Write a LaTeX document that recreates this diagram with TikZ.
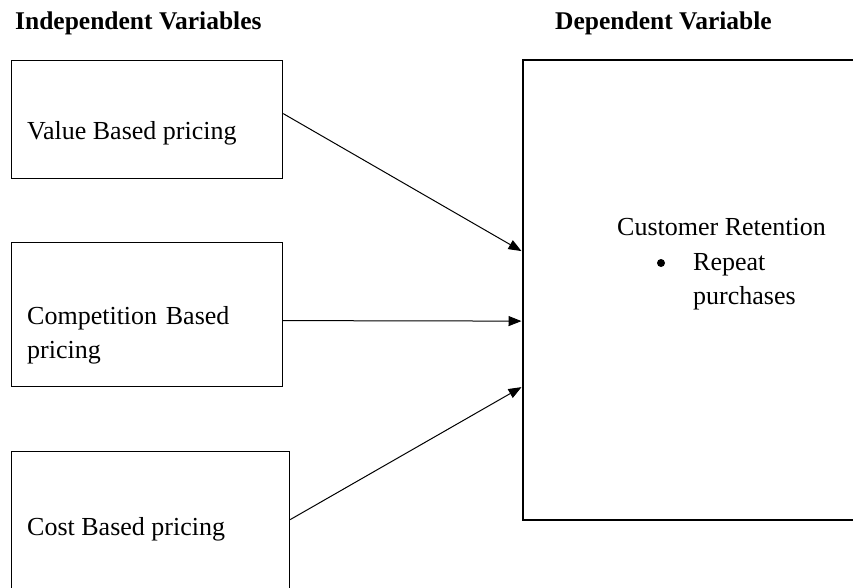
\documentclass[tikz,border=0pt]{standalone}
\usepackage{fontspec}
\setmainfont{Liberation Serif}
\usetikzlibrary{arrows.meta}
\begin{document}
\begin{tikzpicture}[x=1pt,y=-1pt,
  txt/.style={font=\fontsize{26}{34}\selectfont, inner sep=0pt, anchor=base west},
  head/.style={txt, font=\fontsize{25.5}{34}\selectfont\bfseries},
  ivbox/.style={draw, line width=1.2pt, rectangle, inner sep=0pt},
  dvbox/.style={draw, line width=2.2pt, rectangle, inner sep=0pt},
  dot/.style={circle, fill, inner sep=0pt, minimum size=8pt},
  link/.style={line width=1pt, -{Triangle[length=13pt,width=10pt]}}]
  \useasboundingbox (0,0) rectangle (853,588);
  \clip (0,0) rectangle (853,588);
  \fill[white] (0,0) rectangle (853,588);

  % headings
  \node[head] (hiv) at (15,30) {Independent Variables};
  \node[head] (hdv) at (555,30) {Dependent Variable};

  % independent variable boxes
  \node[ivbox, minimum width=271.5pt, minimum height=118pt, anchor=north west] (iv1) at (10.5,60) {};
  \node[ivbox, minimum width=271.5pt, minimum height=144pt, anchor=north west] (iv2) at (10.5,242) {};
  \node[ivbox, minimum width=278.5pt, minimum height=180pt, anchor=north west] (iv3) at (10.5,451) {};

  \node[txt] (t1) at (27,140) {Value Based pricing};
  \node[txt, text width=240pt, align=left] (t2) at (27,324) {Competition Based\\pricing};
  \node[txt] (t3) at (27,535) {Cost Based pricing};

  % dependent variable box
  \node[dvbox, minimum width=360pt, minimum height=460pt, anchor=north west] (dv) at (521.5,59) {};
  \node[txt] (t4) at (617,235.5) {Customer Retention};
  \node[dot] (bul) at (661,263) {};
  \node[txt, text width=150pt, align=left] (t5) at (693,270) {Repeat\\purchases};

  % connectors
  \draw[link] ([yshift=6pt]iv1.east) -- ([yshift=39pt]dv.west);
  \draw[link] ([yshift=-6pt]iv2.east) -- ([yshift=-31pt]dv.west);
  \draw[link] ([yshift=22pt]iv3.east) -- ([yshift=-97pt]dv.west);
\end{tikzpicture}
\end{document}
